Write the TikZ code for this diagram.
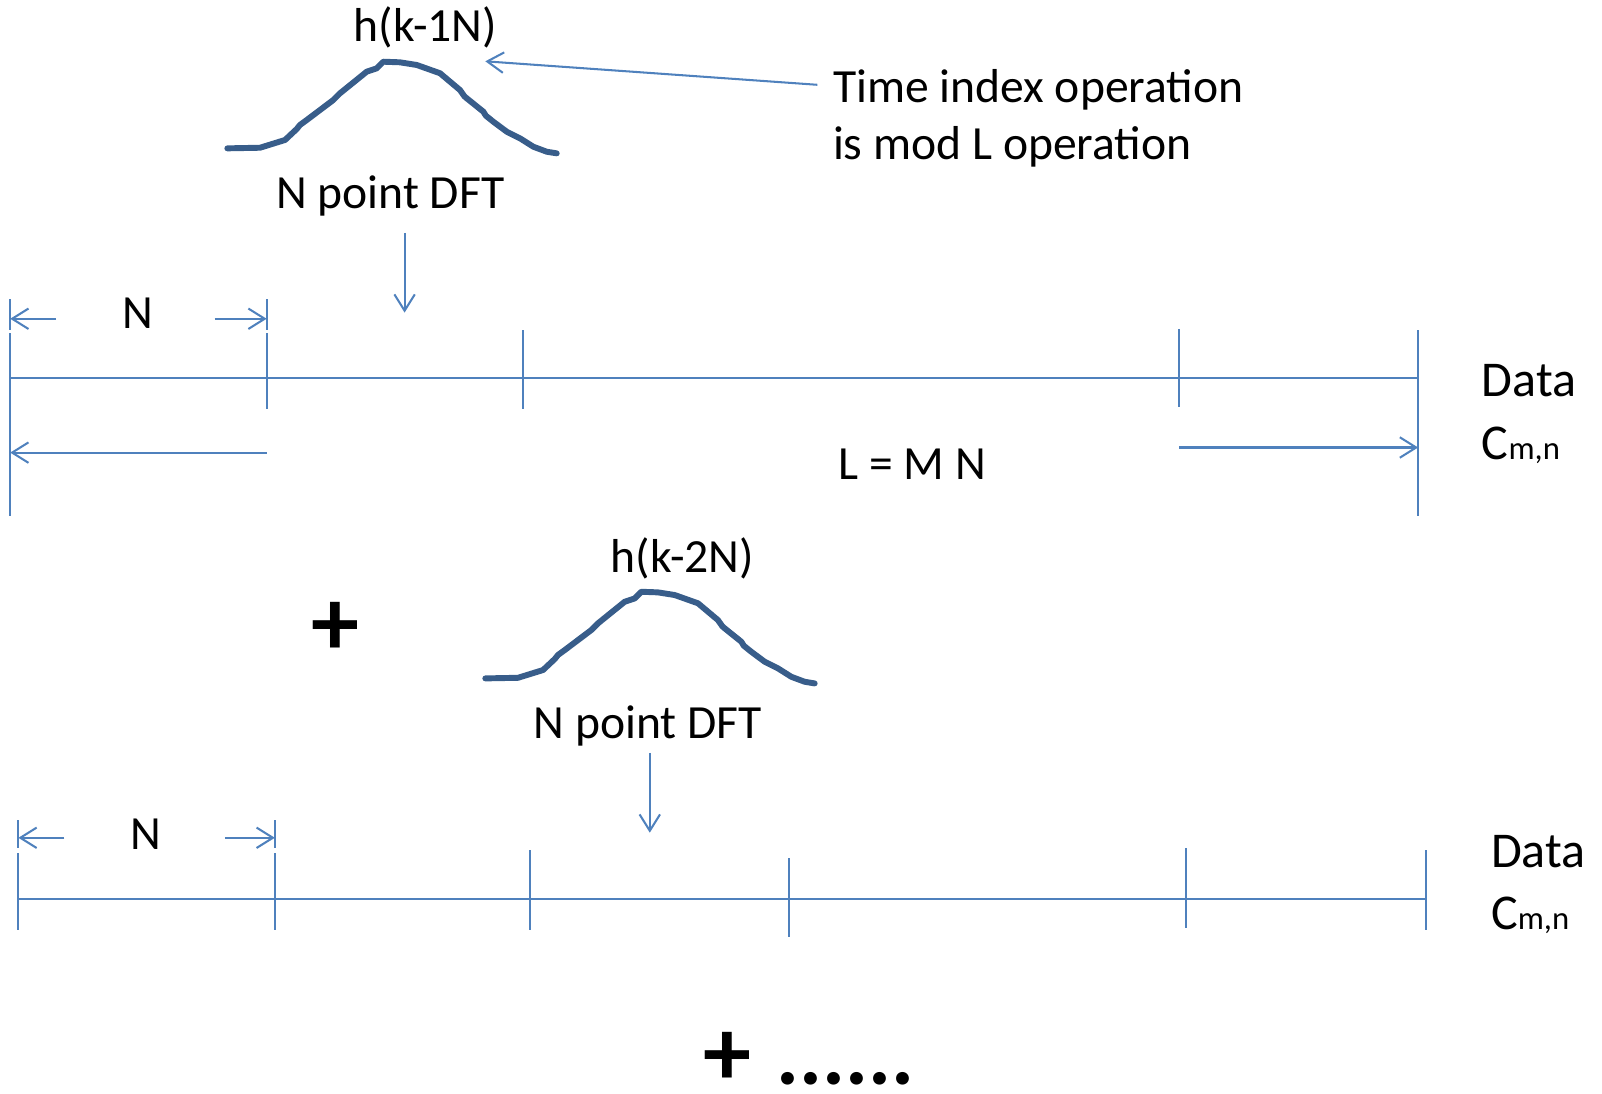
\documentclass[tikz,border=0pt]{standalone}
\usepackage{fontspec}
\setmainfont{Carlito}
\usetikzlibrary{arrows.meta}
\definecolor{lineblue}{RGB}{79,129,189}
\definecolor{curveblue}{RGB}{56,93,138}
\tikzset{
  conn/.style={draw=lineblue, line width=1pt},
  arr/.style={conn, -{Straight Barb[length=8pt,width=10pt]}},
  lbl/.style={inner sep=0pt, anchor=base, font=\fontsize{23.3}{28}\selectfont},
  lblw/.style={lbl, anchor=base west},
  datalbl/.style={inner sep=0pt, anchor=base west, font=\fontsize{24.5}{29}\selectfont},
  curve/.style={draw=curveblue, line width=2.9pt, line join=round, line cap=round},
  big/.style={inner sep=0pt, anchor=base, font=\fontsize{47}{56}\selectfont\bfseries},
  dots/.style={inner sep=0pt, anchor=base west, font=\fontsize{42}{50}\selectfont\bfseries},
  pics/pulse/.style={code={
    \draw[curve] (0,0) -- (32,-0.6) -- (56.5,-8.2) -- (68,-19) -- (71.1,-22.9) -- (77.7,-27.7)
      -- (103.7,-47.3) -- (110.3,-53.9) -- (136.4,-75) -- (146.2,-78.3) -- (152.7,-84.8)
      -- (169,-84.2) -- (185.4,-81.6) -- (208.2,-73.5) -- (227.7,-57.1) -- (232,-51) -- (234.3,-49)
      -- (250.6,-35.9) -- (253,-32) -- (260.3,-26.1) -- (273.5,-16.3) -- (278,-14) -- (286.5,-9.8)
      -- (299.5,-1.6) -- (312.6,3.3) -- (322.4,4.9);
  }},
}
\begin{document}
\begin{tikzpicture}[x=0.5pt,y=-0.5pt]
\useasboundingbox (0,0) rectangle (1568,1070);

% ---------------- top block ----------------
\pic at (222.5,145.2) {pulse};
\node[lbl] (h1) at (416.5,41) {h(k-1N)};
\node[lbl] (dft1) at (382,204) {N point DFT};
\node[lblw] (time1) at (815,100) {Time index operation};
\node[lblw] (time2) at (815,156) {is mod L operation};
\coordinate (tA) at (800,83);
\coordinate (tB) at (475,60);
\draw[arr] (tA) -- (tB);
\coordinate (d1s) at (396,228);
\coordinate (d1e) at (396,306);
\draw[arr] (d1s) -- (d1e);

\coordinate (a0) at (10,370);
\coordinate (a4) at (1388,370);
\draw[conn] (a0) -- (a4);
\draw[conn] (10,293) -- (10,323);
\draw[conn] (10,326) -- (10,505);
\draw[conn] (261,293) -- (261,323);
\draw[conn] (261,326) -- (261,400);
\draw[conn] (512,323) -- (512,400);
\draw[conn] (1154,322) -- (1154,398);
\draw[conn] (1388,323) -- (1388,505);

\node[lbl] (n1) at (135,322) {N};
\coordinate (n1l0) at (55,312);  \coordinate (n1l1) at (10,312);
\coordinate (n1r0) at (210,312); \coordinate (n1r1) at (261,312);
\draw[arr] (n1l0) -- (n1l1);
\draw[arr] (n1r0) -- (n1r1);

\node[lbl] (L) at (893,469) {L = M N};
\coordinate (Ll0) at (261,443);  \coordinate (Ll1) at (10,443);
\coordinate (Lr0) at (1154,438); \coordinate (Lr1) at (1388,438);
\draw[arr] (Ll0) -- (Ll1);
\draw[arr] (Lr0) -- (Lr1);

\node[datalbl] (data1) at (1450,388) {Data};
\node[datalbl] (c1) at (1450,450) {C{\fontsize{16}{19}\selectfont m,n}};

\node[big] (plus1) at (328,642) {+};

% ---------------- bottom block ----------------
\pic at (475,664) {pulse};
\node[lbl] (h2) at (668,560) {h(k-2N)};
\node[lbl] (dft2) at (634,723) {N point DFT};
\coordinate (d2s) at (636,737);
\coordinate (d2e) at (636,815);
\draw[arr] (d2s) -- (d2e);

\coordinate (b0) at (18,880);
\coordinate (b5) at (1396,880);
\draw[conn] (b0) -- (b5);
\draw[conn] (18,803) -- (18,830);
\draw[conn] (18,835) -- (18,910);
\draw[conn] (269,803) -- (269,830);
\draw[conn] (269,835) -- (269,910);
\draw[conn] (519,832) -- (519,910);
\draw[conn] (772,840) -- (772,917);
\draw[conn] (1161,830) -- (1161,908);
\draw[conn] (1396,832) -- (1396,910);

\node[lbl] (n2) at (143,831) {N};
\coordinate (n2l0) at (63,820);  \coordinate (n2l1) at (18,820);
\coordinate (n2r0) at (220,820); \coordinate (n2r1) at (269,820);
\draw[arr] (n2l0) -- (n2l1);
\draw[arr] (n2r0) -- (n2r1);

\node[datalbl] (data2) at (1459,849) {Data};
\node[datalbl] (c2) at (1459,910) {C{\fontsize{16}{19}\selectfont m,n}};

\node[big] (plusend) at (712,1062) {+};
\node[dots] (dotsend) at (760,1061) {......};
\end{tikzpicture}
\end{document}
